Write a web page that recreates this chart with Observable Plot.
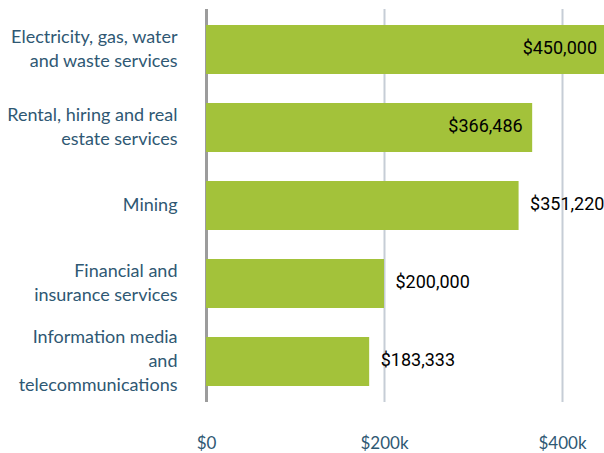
<!DOCTYPE html>
<html>
<head>
<meta charset="utf-8">
<script src="https://cdn.jsdelivr.net/npm/d3@7"></script>
<script src="https://cdn.jsdelivr.net/npm/@observablehq/plot@0.6"></script>
<style>
  html, body { margin: 0; padding: 0; background: #fff; }
</style>
</head>
<body>
<div id="chart"></div>
<script>
const categories = [
  "Electricity, gas, water\nand waste services",
  "Rental, hiring and real\nestate services",
  "Mining",
  "Financial and\ninsurance services",
  "Information media\nand\ntelecommunications"
];
const values = [450000, 366486, 351220, 200000, 183333];
const xTicks = [0, 200000, 400000];
const xTickLabels = ["$0", "$200k", "$400k"];

const data = categories.map((c, i) => ({category: c, value: values[i]}));
const fmt = d => "$" + d3.format(",")(d);
const insideThreshold = 360000;

const chart = Plot.plot({
  width: 604,
  height: 453,
  marginLeft: 206,
  marginRight: 0,
  marginTop: 9,
  marginBottom: 51,
  style: {fontFamily: "Lato", color: "#2f5873", background: "#fff"},
  x: {domain: [0, 400000], range: [206, 562], label: null},
  y: {domain: categories, paddingInner: 0.376, paddingOuter: 0.188, label: null},
  marks: [
    Plot.gridX(xTicks.slice(1), {stroke: "#c6cdd6", strokeWidth: 2, strokeOpacity: 1}),
    Plot.ruleX([0], {stroke: "#9c9c9c", strokeWidth: 3}),
    Plot.barX(data, {x: "value", y: "category", fill: "#a3c23a", clip: true}),
    Plot.text(data.filter(d => d.value > insideThreshold), {
      x: "value", y: "category", text: d => fmt(d.value),
      textAnchor: "end", dx: -10, dy: -2, fill: "#000", fontSize: 18, fontFamily: "Roboto"
    }),
    Plot.text(data.filter(d => d.value <= insideThreshold), {
      x: "value", y: "category", text: d => fmt(d.value),
      textAnchor: "start", dx: 11, dy: -2, fill: "#000", fontSize: 18, fontFamily: "Roboto"
    }),
    Plot.axisY({tickSize: 0, tickPadding: 29, dy: -3, fontSize: 18, lineHeight: 1.33, fill: "#2f5873", label: null}),
    Plot.axisX(xTicks, {tickSize: 0, tickPadding: 34, fontSize: 17, fill: "#2f5873", label: null,
      tickFormat: d => xTickLabels[xTicks.indexOf(d)]})
  ]
});
document.getElementById("chart").append(chart);
</script>
</body>
</html>
